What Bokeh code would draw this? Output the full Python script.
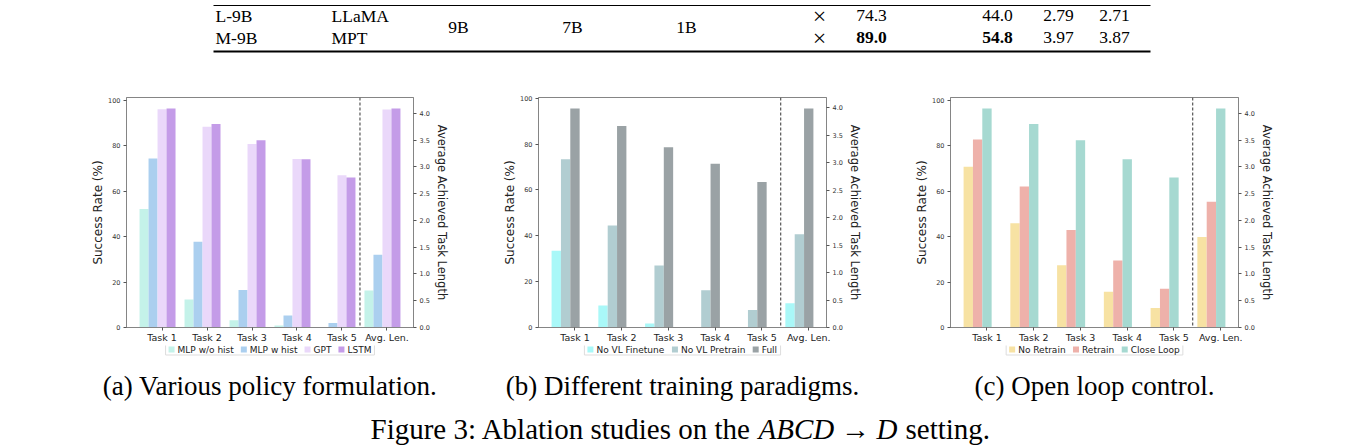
from bokeh.plotting import figure
from bokeh.models import (Range1d, LinearAxis, FixedTicker, Span,
                          ColumnDataSource, NumeralTickFormatter)
from bokeh.layouts import column, row
from bokeh.embed import file_html
from bokeh.resources import INLINE
from bokeh.core.properties import value

# ---------------- data ----------------
categories = ["Task 1", "Task 2", "Task 3", "Task 4", "Task 5", "Avg. Len."]

# (a) policy formulation: success rate per task (%) and average length
a_names = ["MLP w/o hist", "MLP w hist", "GPT", "LSTM"]
a_mlp_wo_hist = [52.2, 12.3, 3.2, 0.9, 0.0]
a_mlp_w_hist = [74.4, 37.7, 16.5, 5.3, 2.0]
a_gpt = [96.1, 88.3, 80.8, 74.1, 67.0]
a_lstm = [96.4, 89.6, 82.4, 74.0, 66.0]
a_avg_len = [0.69, 1.36, 4.07, 4.09]

# (b) training paradigms
b_names = ["No VL Finetune", "No VL Pretrain", "Full"]
b_no_finetune = [33.5, 9.6, 1.7, 0.0, 0.0]
b_no_pretrain = [73.3, 44.5, 27.0, 16.2, 7.6]
b_full = [95.5, 87.9, 78.6, 71.4, 63.4]
b_avg_len = [0.44, 1.70, 3.99]

# (c) open loop control
c_names = ["No Retrain", "Retrain", "Close Loop"]
c_no_retrain = [70.7, 45.9, 27.4, 15.7, 8.6]
c_retrain = [82.7, 62.0, 42.9, 29.5, 17.1]
c_close_loop = [96.4, 89.6, 82.4, 74.0, 66.0]
c_avg_len = [1.69, 2.35, 4.09]

# table rows shown above the figure
tbl_model = ["L-9B", "M-9B"]
tbl_lang = ["LLaMA", "MPT"]
tbl_shared = ["9B", "7B", "1B"]
tbl_flag = ["\u00d7", "\u00d7"]
tbl_col1 = ["74.3", "89.0"]
tbl_col2 = ["44.0", "54.8"]
tbl_col3 = ["2.79", "3.97"]
tbl_col4 = ["2.71", "3.87"]
tbl_bold_row = 1

captions = ["(a) Various policy formulation.", "(b) Different training paradigms.",
            "(c) Open loop control."]

a_colors = ["#c4f2e9", "#abcfef", "#ead8fa", "#c49ce8"]
b_colors = ["#a9f8f8", "#b1cdd1", "#9aa2a5"]
c_colors = ["#f7e2a3", "#eeb1aa", "#a6d9d1"]

SANS = "DejaVu Sans"
SERIF = "Liberation Serif"
SPINE = "#858585"
BAR_W = 0.2
TOP_H = 88
ROW_H = 257
BOTTOM_H = 448 - TOP_H - ROW_H


def panel(names, colors, task_series, len_values, width, left, right):
    n_tasks = len(task_series[0])
    n_series = len(names)
    x_hi = n_tasks + (n_series - 0.5) * BAR_W
    pad = 0.05 * (x_hi + 0.1)
    p = figure(width=width, height=ROW_H, output_backend="svg", toolbar_location=None,
               x_range=Range1d(-0.1 - pad, x_hi + pad),
               y_range=Range1d(0, max(max(s) for s in task_series) * 1.05),
               min_border_left=left, min_border_right=right,
               min_border_top=9, min_border_bottom=17)
    p.extra_y_ranges = {"len": Range1d(0, max(len_values) * 1.05)}
    p.xgrid.visible = False
    p.ygrid.visible = False
    p.outline_line_color = SPINE
    p.background_fill_color = "white"

    for k, (color, vals) in enumerate(zip(colors, task_series)):
        src = ColumnDataSource(dict(x=[i + k * BAR_W for i in range(n_tasks)], top=vals))
        p.vbar(x="x", top="top", width=BAR_W, source=src, fill_color=color, line_color=None)
        lsrc = ColumnDataSource(dict(x=[n_tasks + k * BAR_W], top=[len_values[k]]))
        p.vbar(x="x", top="top", width=BAR_W, source=lsrc, y_range_name="len",
               fill_color=color, line_color=None)

    p.add_layout(Span(location=n_tasks - 0.2, dimension="height", line_color="#555555",
                      line_dash="3 2", line_width=1.2))

    # bottom category axis
    ticks = [i + 2 * BAR_W for i in range(len(categories))]
    xa = p.xaxis[0]
    xa.ticker = FixedTicker(ticks=ticks)
    xa.major_label_overrides = {t: c for t, c in zip(ticks, categories)}
    xa.major_label_text_font = SANS
    xa.major_label_text_font_size = "9.5px"
    xa.major_label_text_color = "#222222"
    xa.major_label_standoff = 1
    xa.axis_line_color = SPINE
    xa.major_tick_line_color = "#555555"
    xa.major_tick_out = 3
    xa.major_tick_in = 0
    xa.minor_tick_line_color = None

    # left success-rate axis
    ya = p.yaxis[0]
    ya.ticker = FixedTicker(ticks=[0, 20, 40, 60, 80, 100])
    ya.axis_label = "Success Rate (%)"
    ya.axis_label_text_font = SANS
    ya.axis_label_text_font_style = "normal"
    ya.axis_label_text_font_size = "12px"
    ya.axis_label_text_color = "#222222"
    ya.axis_label_standoff = 0
    ya.major_label_text_font = SANS
    ya.major_label_text_font_size = "6.5px"
    ya.major_label_text_color = "#333333"
    ya.major_label_standoff = 3
    ya.axis_line_color = SPINE
    ya.major_tick_line_color = "#555555"
    ya.major_tick_out = 3
    ya.major_tick_in = 0
    ya.minor_tick_line_color = None

    # right average-length axis
    ra = LinearAxis(y_range_name="len", ticker=FixedTicker(ticks=[0, 0.5, 1, 1.5, 2, 2.5, 3, 3.5, 4]),
                    formatter=NumeralTickFormatter(format="0.0"),
                    axis_label="Average Achieved Task Length")
    ra.axis_label_text_font = SANS
    ra.axis_label_text_font_style = "normal"
    ra.axis_label_text_font_size = "11.5px"
    ra.axis_label_text_color = "#222222"
    ra.axis_label_standoff = 2
    ra.major_label_text_font = SANS
    ra.major_label_text_font_size = "6.5px"
    ra.major_label_text_color = "#333333"
    ra.major_label_standoff = 3
    ra.axis_line_color = SPINE
    ra.major_tick_line_color = "#555555"
    ra.major_tick_out = 3
    ra.major_tick_in = 0
    ra.minor_tick_line_color = None
    p.add_layout(ra, "right")
    return p


fig_a = panel(a_names, a_colors, [a_mlp_wo_hist, a_mlp_w_hist, a_gpt, a_lstm], a_avg_len,
              width=480, left=126, right=67)
fig_b = panel(b_names, b_colors, [b_no_finetune, b_no_pretrain, b_full], b_avg_len,
              width=410, left=58, right=64)
fig_c = panel(c_names, c_colors, [c_no_retrain, c_retrain, c_close_loop], c_avg_len,
              width=471, left=60, right=123)


def canvas(height):
    p = figure(width=1361, height=height, output_backend="svg", toolbar_location=None,
               x_range=Range1d(0, 1361), y_range=Range1d(height, 0),
               x_axis_type=None, y_axis_type=None, min_border=0)
    p.xgrid.visible = False
    p.ygrid.visible = False
    p.outline_line_color = None
    return p


# ---------------- table fragment ----------------
top = canvas(TOP_H)
TBL_FS = "17.5px"
row_y = [15, 37]
top.line(x=[213, 1150], y=[5, 5], line_color="black", line_width=1)
top.line(x=[213, 1150], y=[51, 51], line_color="black", line_width=2.2)
top.text(x=[215, 215], y=row_y, text=tbl_model, text_font=value(SERIF),
         text_font_size=TBL_FS, text_align="left", text_baseline="middle")
top.text(x=[331, 331], y=row_y, text=tbl_lang, text_font=value(SERIF),
         text_font_size=TBL_FS, text_align="left", text_baseline="middle")
top.text(x=[458, 572, 686], y=[26, 26, 26], text=tbl_shared, text_font=value(SERIF),
         text_font_size=TBL_FS, text_align="center", text_baseline="middle")
top.text(x=[819, 819], y=row_y, text=tbl_flag, text_font=value(SERIF),
         text_font_size="24px", text_align="center", text_baseline="middle")
for xc, col in [(871, tbl_col1), (997, tbl_col2), (1058, tbl_col3), (1114, tbl_col4)]:
    for r, txt in enumerate(col):
        bold = (r == tbl_bold_row) and col in (tbl_col1, tbl_col2)
        top.text(x=[xc], y=[row_y[r]], text=[txt], text_font=value(SERIF),
                 text_font_size=TBL_FS, text_align="center", text_baseline="middle",
                 text_font_style="bold" if bold else "normal")

# ---------------- legends and captions ----------------
bottom = canvas(BOTTOM_H)

# approximate DejaVu Sans advance widths (em) used to lay out the legend rows
ADV = {" ": 0.318, "/": 0.337, "C": 0.698, "F": 0.575, "G": 0.775, "L": 0.557,
       "M": 0.863, "N": 0.748, "P": 0.603, "R": 0.695, "S": 0.635, "T": 0.611,
       "V": 0.684, "a": 0.613, "e": 0.615, "f": 0.352, "h": 0.634, "i": 0.278,
       "l": 0.278, "n": 0.634, "o": 0.612, "p": 0.635, "r": 0.411, "s": 0.521,
       "t": 0.392, "u": 0.634, "w": 0.818}
LEG_FS = 9.0
LEG_Y = 4.0
GLYPH, STANDOFF, GAP, PAD = 6.0, 3.0, 7.0, 3.0


def draw_legend(names, colors, center_x):
    widths = [sum(ADV.get(ch, 0.6) for ch in n) * LEG_FS for n in names]
    total = 2 * PAD + sum(GLYPH + STANDOFF + w for w in widths) + GAP * (len(names) - 1)
    x0 = center_x - total / 2
    bottom.rect(x=[center_x], y=[LEG_Y], width=total, height=11, fill_color="white",
                line_color="#dddddd", line_width=1)
    gx, tx = [], []
    cur = x0 + PAD
    for w in widths:
        gx.append(cur + GLYPH / 2)
        tx.append(cur + GLYPH + STANDOFF)
        cur += GLYPH + STANDOFF + w + GAP
    bottom.rect(x=gx, y=[LEG_Y] * len(gx), width=GLYPH, height=GLYPH,
                fill_color=colors, line_color=None)
    bottom.text(x=tx, y=[LEG_Y] * len(tx), text=names, text_font=value(SANS),
                text_font_size=f"{LEG_FS}px", text_color="#222222",
                text_align="left", text_baseline="middle")


draw_legend(a_names, a_colors, 269.5)
draw_legend(b_names, b_colors, 682)
draw_legend(c_names, c_colors, 1094)

CAP_Y = 385 - TOP_H - ROW_H
bottom.text(x=[269.5, 682, 1094], y=[CAP_Y] * 3, text=captions, text_font=value(SERIF),
            text_font_size="27px", text_align="center", text_baseline="middle")

TITLE_FS = "29px"
TITLE_Y = 428 - TOP_H - ROW_H
title_parts = [("Figure 3: Ablation studies on the", "normal", "left", 370),
               ("ABCD", "italic", "left", 758),
               ("\u2192", "normal", "center", 855),
               ("D", "italic", "left", 876),
               ("setting.", "normal", "left", 905)]
for txt, style, align, xl in title_parts:
    bottom.text(x=[xl], y=[TITLE_Y], text=[txt], text_font=value(SERIF),
                text_font_size=TITLE_FS, text_font_style=style, text_align=align,
                text_baseline="middle")

layout = column(top, row(fig_a, fig_b, fig_c), bottom)
open("out.html", "w").write(file_html(layout, INLINE))
